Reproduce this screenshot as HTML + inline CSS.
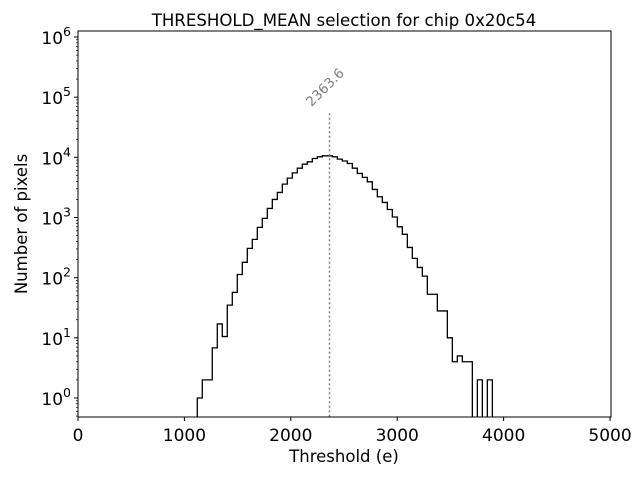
<!DOCTYPE html>
<html><head><meta charset="utf-8"><style>
body{margin:0;background:#fff}
svg text{font-family:"DejaVu Sans","Liberation Sans",sans-serif}
</style></head><body>
<svg id="c" width="640" height="480" viewBox="0 0 640 480">
<defs><clipPath id="clip"><rect x="78" y="31" width="533" height="386"/></clipPath></defs>
<rect width="640" height="480" fill="#fff"/>
<text x="344" y="26" text-anchor="middle" font-size="16.6">THRESHOLD_MEAN selection for chip 0x20c54</text>
<g id="ticks"></g>
<g id="marks" clip-path="url(#clip)"></g>
<rect x="78" y="31" width="533" height="386" fill="none" stroke="#000" stroke-width="1"/>
<text x="344" y="462" text-anchor="middle" font-size="16.5">Threshold (e)</text>
<text x="27" y="224" text-anchor="middle" font-size="16.5" transform="rotate(-90 27 224)">Number of pixels</text>
</svg>
<script>
const binStart = 1121;
const binWidth = 47;
const counts = [1,2,2,6.8,17,10.5,35,57,113,180,307,433,685,966,1415,1995,2610,3590,4510,5520,6600,7700,8420,9560,10200,
10600,10600,10200,9330,8700,7900,6600,5400,4640,3920,2930,2210,1780,1360,1020,700,525,318,209,148,106,53,53,28,28,10,4,5,4,4,0,2,0,2];
const meanValue = 2363.6;
const meanLineTop = 54000;
const xTicks = [0,1000,2000,3000,4000,5000];
const yTickExps = [0,1,2,3,4,5,6];

const NS = "http://www.w3.org/2000/svg";
const X0 = 78, X1 = 611, Y0 = 417, Y1 = 31;
const xMin = 0, xMax = 5009;
const lMin = Math.log10(0.483), lMax = 6.1;
function xs(v){return X0 + (v - xMin) / (xMax - xMin) * (X1 - X0);}
function ys(v){ if (v <= 0) return Y0 + 5; return Y0 - (Math.log10(v) - lMin) / (lMax - lMin) * (Y0 - Y1);}
function mk(tag, attrs, parent){const e=document.createElementNS(NS,tag);for(const k in attrs)e.setAttribute(k,attrs[k]);parent.appendChild(e);return e;}

const ticks = document.getElementById('ticks');
const marks = document.getElementById('marks');

xTicks.forEach(t=>{
  const x = xs(t);
  const l = mk('line',{x1:x,x2:x,y1:Y0,y2:Y0+4,stroke:'#000'},ticks);
  
  
  const tx = mk('text',{x:x,y:Y0+24,'text-anchor':'middle','font-size':'17'},ticks);
  tx.textContent = t;
  
  
});
yTickExps.forEach(e=>{
  const y = ys(Math.pow(10,e));
  const l = mk('line',{x1:X0-4,x2:X0,y1:y,y2:y,stroke:'#000'},ticks);
  
  
  const tx = mk('text',{x:X0-7,y:y+7,'text-anchor':'end','font-size':'17'},ticks);
  
  
  tx.innerHTML = '10<tspan dy="-8" font-size="12.5">'+e+'</tspan>';
  for(let m=2;m<10;m++){
    const v = m*Math.pow(10,e);
    const yy = ys(v);
    if (yy < Y1 || yy > Y0) continue;
    const ml = mk('line',{x1:X0-2,x2:X0,y1:yy,y2:yy,stroke:'#000','stroke-width':0.7},ticks);
    
    
  }
});
[0.5,0.6,0.7,0.8,0.9].forEach(v=>{const yy=ys(v); if(yy<=Y0){const ml=mk('line',{x1:X0-2,x2:X0,y1:yy,y2:yy,stroke:'#000','stroke-width':0.7},ticks);

}});

let d = 'M'+xs(binStart)+','+ys(0);
counts.forEach((c,i)=>{
  const a = xs(binStart + i*binWidth), b = xs(binStart + (i+1)*binWidth);
  d += ' L'+a+','+ys(c)+' L'+b+','+ys(c);
});
d += ' L'+xs(binStart+counts.length*binWidth)+','+ys(0);
const p = mk('path',{d:d,fill:'none',stroke:'#000','stroke-width':1.3},marks);



const mx = xs(meanValue);
const ml = mk('line',{x1:mx,x2:mx,y1:ys(meanLineTop),y2:Y0,stroke:'#808080','stroke-width':1.5,'stroke-dasharray':'2,2.5'},marks);


const lx = mx-18, ly = ys(meanLineTop)-6;
const mt = mk('text',{x:lx,y:ly,'font-size':'13.5',fill:'#808080',transform:'rotate(-45 '+lx+' '+ly+')'},document.getElementById('c'));
mt.textContent = meanValue.toFixed(1);


</script>
</body></html>
